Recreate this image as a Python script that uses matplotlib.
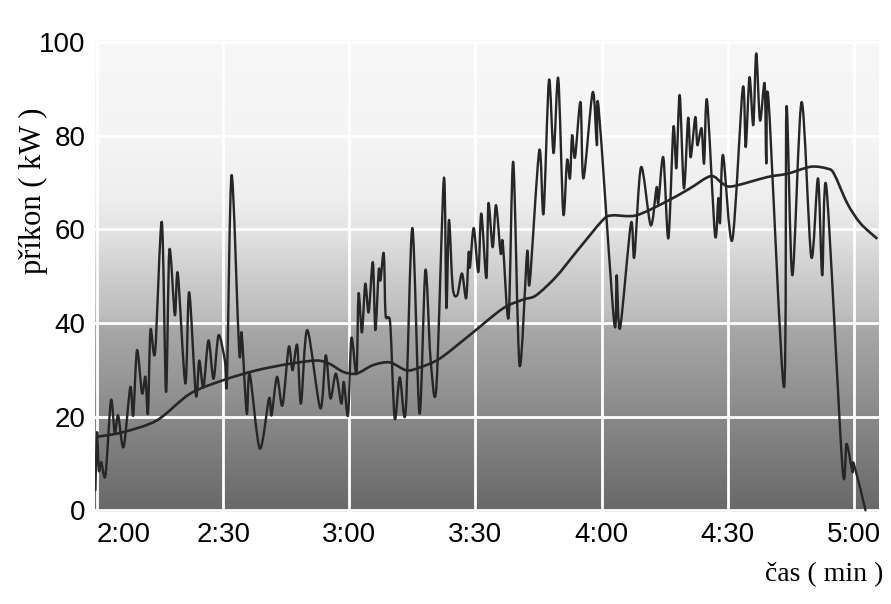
import numpy as np
import matplotlib.pyplot as plt
from matplotlib.colors import LinearSegmentedColormap
from matplotlib.path import Path
from matplotlib.patches import PathPatch

# time in seconds (2:00 = 120 s), power in kW
noisy_t = [119.6, 120.0, 120.4, 121.0, 122.0, 123.3, 124.2, 125.0, 126.3, 127.9,
           128.6, 129.5, 130.7, 131.5, 132.1, 132.7, 133.8, 135.4, 136.4, 137.2,
           138.5, 139.2, 141.0, 141.9, 143.5, 144.3, 145.3, 146.5, 147.7, 148.9,
           150.4, 150.9, 152.0, 153.8, 154.4, 155.6, 156.3, 158.7, 160.9, 161.5,
           162.8, 164.1, 165.6, 166.5, 167.6, 168.5, 170.0, 173.1, 174.4, 175.5,
           176.8, 178.1, 178.7, 179.7, 180.5, 181.7, 182.2, 183.0, 183.8, 184.6,
           185.6, 186.2, 187.0, 187.4, 188.2, 188.6, 189.2, 189.8, 190.8, 192.0,
           193.4, 195.0, 196.7, 198.1, 199.3, 200.7, 202.5, 203.1, 203.7, 204.6,
           205.7, 206.8, 207.8, 208.4, 208.7, 209.6, 210.7, 211.4, 212.6, 213.1,
           214.1, 214.9, 216.0, 216.5, 217.9, 219.0, 220.5, 222.3, 222.9, 225.2,
           226.2, 227.5, 228.6, 229.7, 230.9, 231.8, 232.5, 233.0, 233.7, 235.0,
           235.7, 237.9, 238.9, 239.3, 243.0, 243.6, 244.4, 247.0, 247.8, 249.4,
           251.7, 253.1, 253.5, 254.7, 255.9, 257.1, 257.8, 258.6, 259.6, 260.6,
           261.2, 262.3, 262.8, 263.8, 264.4, 265.1, 267.0, 267.8, 268.2, 268.9,
           271.1, 273.6, 274.3, 275.2, 276.1, 276.8, 277.7, 278.8, 279.2, 279.7,
           283.4, 284.0, 285.4, 287.6, 289.9, 291.5, 292.5, 293.5, 297.3, 298.3,
           299.7, 300.0, 302.8]
noisy_kw = [4.3, 16.7, 8.5, 10.3, 7.5, 23.5, 16.5, 20.3, 13.5, 26.3,
            20.3, 34.2, 25.0, 28.5, 20.7, 38.5, 33.8, 61.6, 25.3, 55.6,
            41.7, 50.6, 27.1, 46.6, 24.6, 32.0, 26.3, 36.3, 28.1, 37.4,
            32.0, 27.8, 71.6, 34.0, 37.8, 20.7, 29.2, 13.2, 23.9, 20.3,
            28.5, 22.4, 34.9, 29.9, 35.3, 22.8, 38.5, 21.8, 33.1, 23.9,
            29.2, 22.8, 27.4, 20.3, 36.8, 29.2, 46.3, 38.0, 48.4, 42.3,
            53.0, 38.5, 51.3, 49.1, 54.9, 42.1, 41.2, 39.1, 19.6, 28.4,
            21.0, 60.3, 20.7, 51.3, 32.7, 26.1, 70.9, 43.2, 62.0, 47.6,
            46.0, 50.6, 45.3, 55.1, 51.9, 60.3, 50.9, 63.4, 49.6, 65.6,
            56.2, 65.2, 54.9, 57.3, 41.2, 74.4, 31.0, 55.1, 48.5, 76.9,
            63.4, 91.9, 76.3, 92.3, 63.4, 74.8, 70.9, 80.1, 75.4, 87.2,
            70.9, 89.3, 78.0, 86.1, 40.2, 50.2, 38.9, 61.3, 54.1, 73.3,
            60.9, 69.0, 65.6, 75.4, 58.1, 81.8, 73.1, 88.7, 68.8, 83.8,
            75.4, 84.0, 78.0, 81.6, 74.1, 87.6, 58.8, 66.7, 61.5, 75.9,
            57.7, 90.2, 77.6, 92.5, 82.3, 97.6, 83.3, 91.2, 74.1, 88.0,
            26.3, 86.1, 50.2, 87.2, 54.1, 70.9, 50.2, 69.0, 9.3, 14.2,
            8.2, 10.0, 0.0]

trend_t = [120.0, 126.2, 134.2, 142.1, 150.0, 157.9, 165.8, 172.2, 175.3, 178.5,
           181.7, 185.6, 189.6, 193.6, 196.7, 201.5, 208.6, 216.5, 221.3, 224.4,
           229.2, 234.0, 240.3, 242.6, 248.2, 255.3, 260.9, 266.0, 268.8, 271.1,
           279.5, 284.2, 289.8, 293.7, 295.3, 298.5, 301.6, 305.6]
trend_kw = [15.7, 16.7, 19.2, 24.9, 27.8, 29.9, 31.3, 32.0, 31.3, 29.6,
            29.2, 31.0, 31.6, 29.9, 30.5, 32.4, 37.4, 43.1, 45.0, 45.9,
            49.9, 55.2, 62.0, 63.0, 63.0, 65.9, 68.7, 71.4, 69.8, 69.2,
            71.2, 71.9, 73.4, 73.0, 71.9, 65.5, 61.3, 58.0]

x_ticks = [120, 150, 180, 210, 240, 270, 300]
x_labels = ['2:00', '2:30', '3:00', '3:30', '4:00', '4:30', '5:00']
y_ticks = [0, 20, 40, 60, 80, 100]


def smooth_path(xs, ys, k=0.9):
    """Bezier path through the read points (Catmull-Rom style handles)."""
    p = np.column_stack([xs, ys]).astype(float)
    n = len(p)
    verts = [p[0]]
    codes = [Path.MOVETO]
    for i in range(n - 1):
        p0 = p[i - 1] if i > 0 else p[i]
        p3 = p[i + 2] if i + 2 < n else p[i + 1]
        c1 = p[i] + (p[i + 1] - p0) * k / 6.0
        c2 = p[i + 1] - (p3 - p[i]) * k / 6.0
        verts += [c1, c2, p[i + 1]]
        codes += [Path.CURVE4] * 3
    return Path(verts, codes)


fig = plt.figure(figsize=(8.91, 6.04), dpi=100)
ax = fig.add_axes([0.1066, 0.152, 0.8799, 0.782])

xmin, xmax = 119.5, 306.0
ymin, ymax = -0.4, 100.5

# scanned-looking grey background, dark at the bottom, almost white on top
bg = LinearSegmentedColormap.from_list(
    'bg', [(0.0, '#686868'), (0.2, '#898989'), (0.39, '#a8a8a8'),
           (0.41, '#bcbcbc'), (0.5, '#cdcdcd'), (0.58, '#e0e0e0'),
           (0.66, '#eeeeee'), (0.78, '#f4f4f4'), (1.0, '#f7f7f7')])
grad = np.linspace(0, 1, 256).reshape(-1, 1)
ax.imshow(grad, cmap=bg, aspect='auto', origin='lower',
          extent=[xmin, xmax, ymin, ymax], zorder=0)

ax.set_xticks(x_ticks)
ax.set_yticks(y_ticks)
ax.grid(True, color='white', linewidth=2.0, zorder=1)
ax.set_axisbelow(False)

ax.add_patch(PathPatch(smooth_path(noisy_t, noisy_kw), facecolor='none',
                       edgecolor='#262626', linewidth=1.7, zorder=3,
                       joinstyle='round', capstyle='round'))
ax.add_patch(PathPatch(smooth_path(trend_t, trend_kw), facecolor='none',
                       edgecolor='#262626', linewidth=1.9, zorder=4))

ax.set_xlim(xmin, xmax)
ax.set_ylim(ymin, ymax)

ax.set_xticklabels(x_labels)
ax.tick_params(length=0, labelsize=20, pad=7)
for lab in ax.get_xticklabels() + ax.get_yticklabels():
    lab.set_family('Liberation Sans')
ax.get_xticklabels()[0].set_horizontalalignment('left')
for s in ax.spines.values():
    s.set_visible(False)

fig.text(0.038, 0.685, 'příkon ( kW )', rotation=90, ha='center', va='center',
         family='Liberation Serif', fontsize=22)
fig.text(0.925, 0.048, 'čas ( min )', ha='center', va='center',
         family='Liberation Serif', fontsize=20)

fig.savefig('out.png', dpi=100, facecolor='white')
